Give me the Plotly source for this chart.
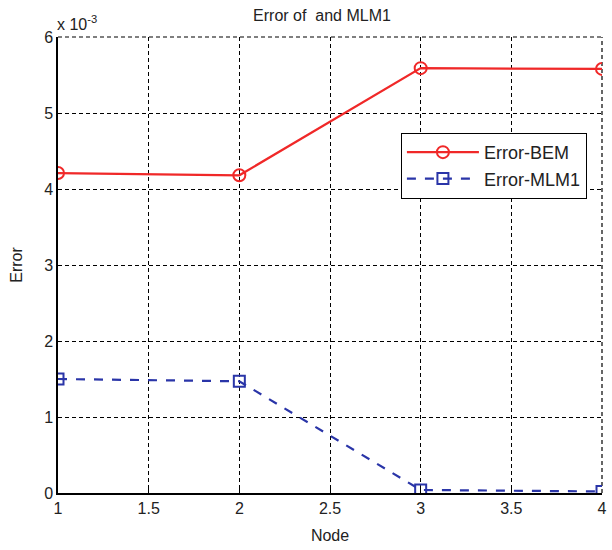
import plotly.graph_objects as go

nodes = [1, 2, 3, 4]
error_bem = [4.21, 4.18, 5.59, 5.58]   # x 10^-3
error_mlm1 = [1.50, 1.47, 0.04, 0.02]  # x 10^-3
x_ticks = [1, 1.5, 2, 2.5, 3, 3.5, 4]
y_ticks = [0, 1, 2, 3, 4, 5, 6]

font_family = "Liberation Sans, Arial, sans-serif"
grid_dash = "4px,3px"

fig = go.Figure()
fig.add_trace(go.Scatter(
    x=nodes, y=error_bem, name="Error-BEM", mode="lines+markers",
    line=dict(color="#f02828", width=2.2),
    marker=dict(symbol="circle-open", size=12, color="#f02828", line=dict(width=2)),
))
fig.add_trace(go.Scatter(
    x=nodes, y=error_mlm1, name="Error-MLM1", mode="lines+markers",
    line=dict(color="#2a35a8", width=2.2, dash="dash"),
    marker=dict(symbol="square-open", size=11, color="#2a35a8", line=dict(width=2)),
))

fig.update_layout(
    width=612, height=550,
    margin=dict(l=58, r=5, t=37, b=57),
    paper_bgcolor="white", plot_bgcolor="white",
    font=dict(family=font_family, size=16, color="#222"),
    title=dict(text="Error of  and MLM1", x=322 / 612, xanchor="center",
               y=1 - 15 / 550, yanchor="middle", font=dict(size=16, color="#222")),
    legend=dict(x=0.63, y=0.79, xanchor="left", yanchor="top",
                bgcolor="white", bordercolor="black", borderwidth=1.2,
                itemwidth=72, tracegroupgap=0,
                font=dict(size=18, color="#222")),
    showlegend=True,
    shapes=[
        dict(type="line", xref="paper", yref="paper", x0=0, x1=1, y0=1, y1=1,
             line=dict(color="black", width=1.2, dash=grid_dash), layer="below"),
        dict(type="line", xref="paper", yref="paper", x0=1, x1=1, y0=0, y1=1,
             line=dict(color="black", width=1.2, dash=grid_dash), layer="below"),
    ],
)
fig.update_xaxes(
    range=[1, 4], tickvals=x_ticks, ticktext=[f"{v:g}" for v in x_ticks],
    showgrid=True, gridcolor="black", griddash=grid_dash, gridwidth=1.2,
    showline=True, linecolor="black", linewidth=1.5, mirror=False,
    ticks="inside", ticklen=4, tickcolor="black",
    zeroline=False, tickfont=dict(size=16),
    title=dict(text="Node", standoff=14, font=dict(size=16)),
)
fig.update_yaxes(
    range=[0, 6], tickvals=y_ticks, ticktext=[str(v) for v in y_ticks],
    showgrid=True, gridcolor="black", griddash=grid_dash, gridwidth=1.2,
    showline=True, linecolor="black", linewidth=1.5, mirror=False,
    ticks="inside", ticklen=4, tickcolor="black",
    zeroline=False, tickfont=dict(size=16),
    title=dict(text="Error", standoff=18, font=dict(size=16)),
)
fig.add_annotation(
    text="x 10<sup>-3</sup>", xref="paper", yref="paper", x=0, y=1,
    xanchor="left", yanchor="bottom", showarrow=False, yshift=2, xshift=-3,
    font=dict(size=16, color="#222"),
)

fig.write_html("out.html")
